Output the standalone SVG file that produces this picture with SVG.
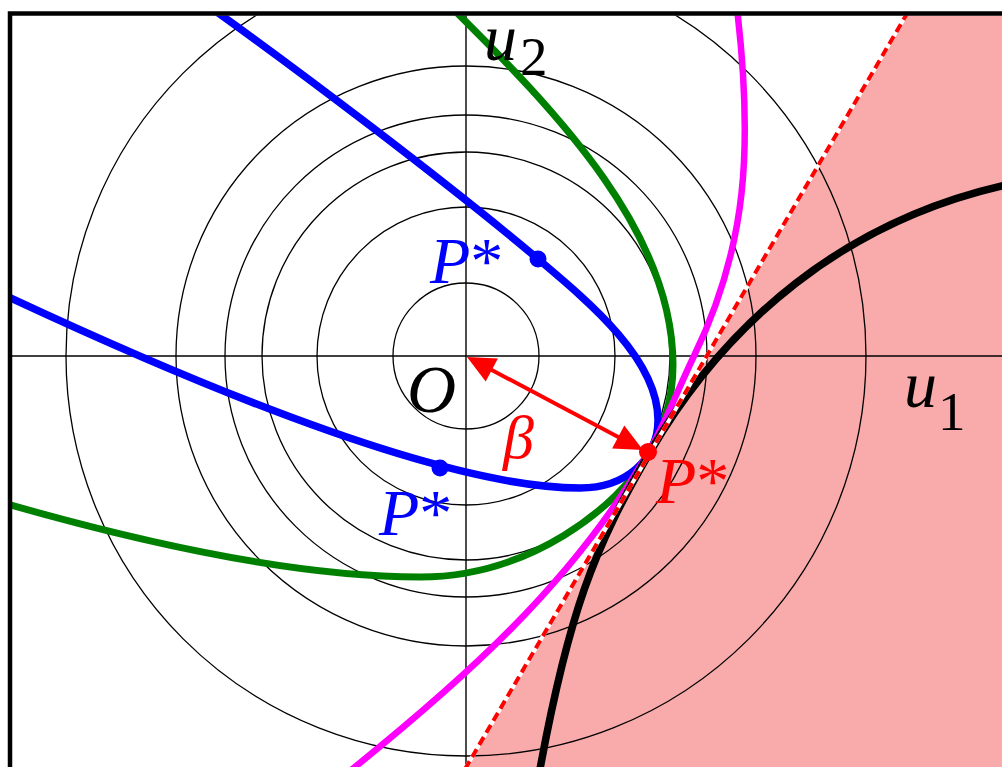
<svg xmlns="http://www.w3.org/2000/svg" width="1002" height="767" viewBox="0 0 1002 767">
<style>
.circ{fill:none;stroke:#000;stroke-width:1.3}
.axis{stroke:#000;stroke-width:1.4}
.curve{fill:none;stroke-linecap:round;stroke-linejoin:round}
.lbl{font-family:"Liberation Serif","Times New Roman",serif;font-style:italic}
</style>
<defs>
<clipPath id="frame"><rect x="12" y="15.5" width="1000" height="760"/></clipPath>
</defs>
<rect x="0" y="0" width="1002" height="767" fill="#fff"/>
<g clip-path="url(#frame)">
<g id="feasible-region">
<polygon points="915,0 1010,0 1010,780 461,776" fill="#F9AAAA"/>
</g>
<g id="level-circles">
<circle class="circ" cx="466" cy="356" r="73"/>
<circle class="circ" cx="466" cy="356" r="149"/>
<circle class="circ" cx="466" cy="356" r="204"/>
<circle class="circ" cx="466" cy="356" r="241"/>
<circle class="circ" cx="466" cy="356" r="290"/>
<circle class="circ" cx="466" cy="356" r="400"/>
</g>
<g id="axes">
<line class="axis" x1="0" y1="356" x2="1002" y2="356"/>
<line class="axis" x1="466" y1="0" x2="466" y2="767"/>
</g>
<g id="curves">
<path id="green-curve" class="curve" stroke="#008000" stroke-width="7" d="M444,0 C565,119 673,235 673,365 C673,400 663.2,429.1 648,455 C617.7,506.8 530,577 420,577 C290,577 125,538 0,502"/>
<path id="blue-curve" class="curve" stroke="#0000FF" stroke-width="7.5" d="M193,-5 C299.2,70 453.9,188.2 538,259 C591.5,304 658,360 658,420 C658,460 625,488 580,488 C440,488 190,382 0,293"/>
<path id="magenta-curve" class="curve" stroke="#FF00FF" stroke-width="6.5" d="M736,0 C754.3,149 746.4,248 694,356 C678.7,387.5 664.7,424.8 647,455 C571.3,584.5 462,681.25 345,775"/>
<path id="black-curve" class="curve" stroke="#000" stroke-width="7.5" d="M1010,184 C844,220 725.75,322.55 650,452 C594.45,546.9 568.1,612.7 538,780"/>
</g>
<g id="tangent-line">
<line x1="915" y1="0" x2="461" y2="776" stroke="#fff" stroke-width="4"/>
<line x1="915" y1="0" x2="461" y2="776" stroke="#FF0000" stroke-width="4" stroke-dasharray="9 5"/>
</g>
</g>
<g id="frame-border">
<polyline points="10,767 10,13.5 1002,13.5" fill="none" stroke="#000" stroke-width="4.5"/>
</g>
<g id="beta-arrow">
<line x1="488" y1="368" x2="622" y2="439" stroke="#FF0000" stroke-width="4"/>
<polygon points="467,357 485.7,381.5 497.9,358.5" fill="#FF0000"/>
<polygon points="643,450 612.1,448.5 624.3,425.5" fill="#FF0000"/>
</g>
<g id="points">
<circle id="p-red" cx="648" cy="452" r="9" fill="#FF0000"/>
<circle id="p-blue-1" cx="538" cy="259" r="8.5" fill="#0000FF"/>
<circle id="p-blue-2" cx="440" cy="468" r="8.5" fill="#0000FF"/>
</g>
<g id="labels">
<text class="lbl" x="484" y="60" font-size="66">u<tspan font-style="normal" font-size="55" x="520" y="75">2</tspan></text>
<text class="lbl" x="904" y="407" font-size="66">u<tspan font-style="normal" font-size="55" x="938" y="430">1</tspan></text>
<text class="lbl" x="407" y="412" font-size="68">O</text>
<text class="lbl" x="503" y="458" font-size="62" fill="#FF0000">β</text>
<text class="lbl" x="430" y="283" font-size="66" fill="#0000FF">P<tspan font-style="normal">*</tspan></text>
<text class="lbl" x="379" y="535" font-size="66" fill="#0000FF">P<tspan font-style="normal">*</tspan></text>
<text class="lbl" x="656" y="503" font-size="66" fill="#FF0000">P<tspan font-style="normal">*</tspan></text>
</g>
</svg>
